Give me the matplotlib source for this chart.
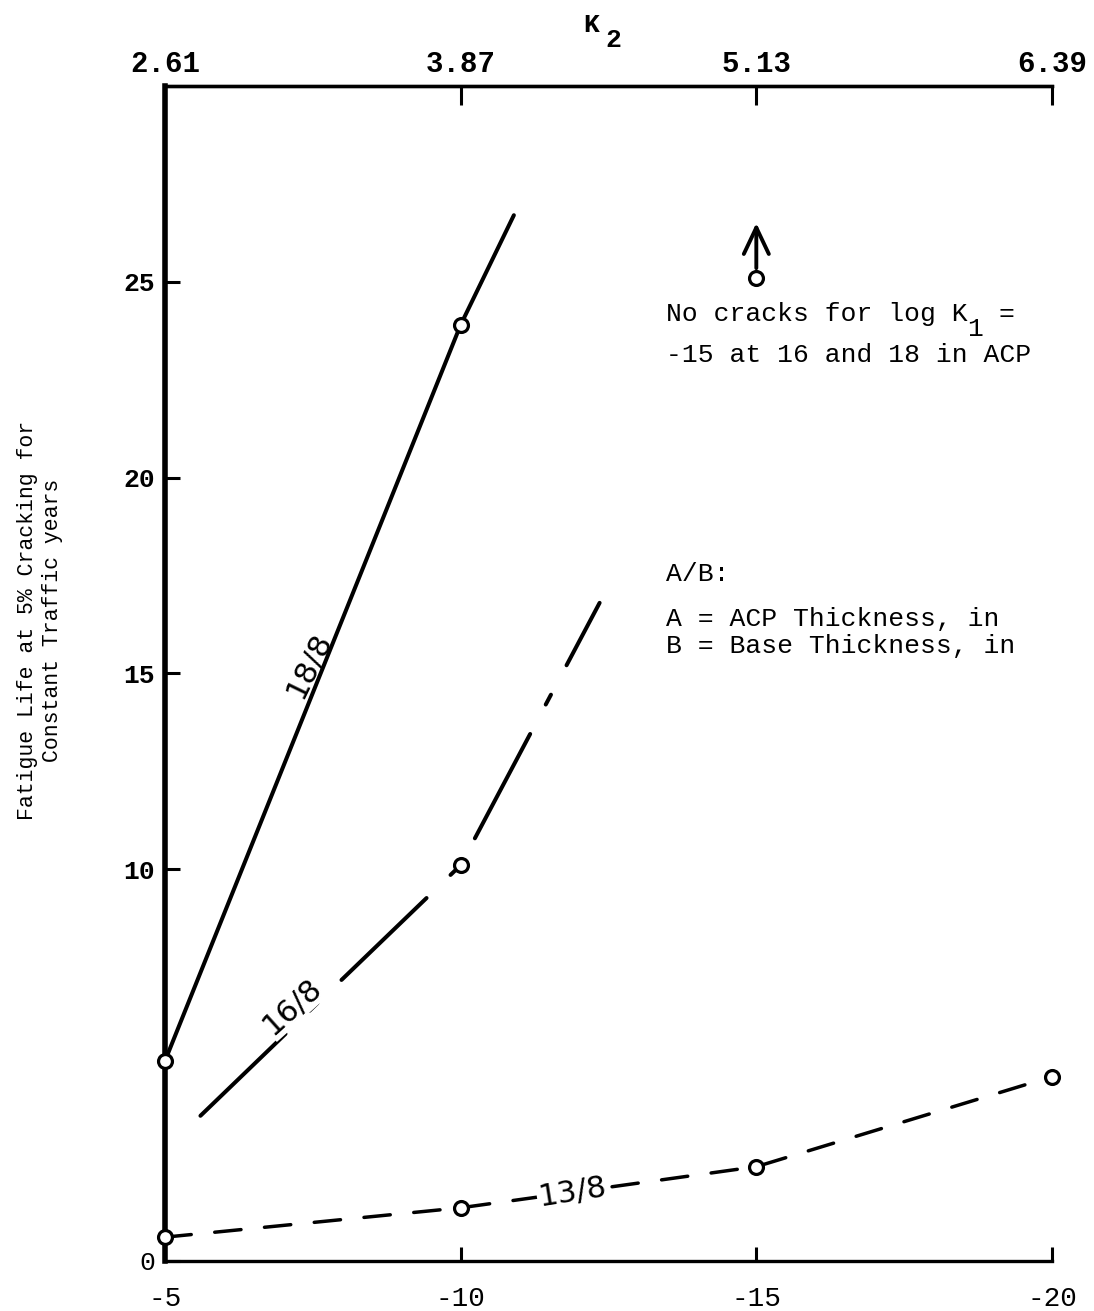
import matplotlib.pyplot as plt
from matplotlib.transforms import offset_copy

plt.rcParams['font.family'] = ['Liberation Mono', 'DejaVu Sans']
plt.rcParams['lines.scale_dashes'] = False

# log K1 along the bottom, K2 along the top
x_ticks = [-5, -10, -15, -20]
x_labels = ['-5', '-10', '-15', '-20']
k2_labels = ['2.61', '3.87', '5.13', '6.39']
y_ticks = [0, 10, 15, 20, 25]
y_labels = ['0', '10', '15', '20', '25']

# fatigue life (years)
x_18_8 = [-5, -10, -10.9]
y_18_8 = [5.1, 23.9, 26.7]
x_16_8 = [-5.6, -10, -12.35]
y_16_8 = [3.7, 10.1, 16.8]
x_13_8 = [-5, -10, -15, -20]
y_13_8 = [0.6, 1.35, 2.4, 4.7]

# computed points (open circles)
pts_18_8_x = [-5, -10]
pts_18_8_y = [5.1, 23.9]
pts_16_8_x = [-10]
pts_16_8_y = [10.1]
no_crack_x = -15
no_crack_y = 25.1
no_crack_top = 26.5

fig = plt.figure(figsize=(10.94, 13.11), dpi=100)
ax = fig.add_axes([0.1508, 0.0384, 0.8108, 0.896])
ax.set_xlim(-5, -20)
ax.set_ylim(0, 30)

# curves
ax.plot(x_18_8, y_18_8, color='black', lw=2.9, solid_capstyle='round', zorder=3)
ax.plot(x_16_8, y_16_8, color='black', lw=2.9, dashes=(85, 24, 8, 24),
        dash_capstyle='round', zorder=3)
ax.plot(x_13_8, y_13_8, color='black', lw=2.5, dashes=(19, 17),
        dash_capstyle='round', zorder=3)

mk = dict(ls='none', marker='o', ms=10, mfc='white', mec='black', mew=2.3,
          zorder=5, clip_on=False)
ax.plot(pts_18_8_x, pts_18_8_y, **mk)
ax.plot(pts_16_8_x, pts_16_8_y, **mk)
ax.plot(x_13_8, y_13_8, **mk)
ax.plot([no_crack_x], [no_crack_y], **mk)

ax.annotate('', xy=(no_crack_x, no_crack_top), xytext=(no_crack_x, no_crack_y),
            arrowprops=dict(arrowstyle='->,head_length=1.9,head_width=0.9',
                            lw=2.8, color='black', shrinkA=7, shrinkB=0,
                            mutation_scale=10))

# curve labels
lab = dict(family='DejaVu Sans', fontsize=22, ha='center', va='center',
           rotation_mode='anchor', zorder=6)
ax.text(-7.45, 15.2, '18/8', rotation=64, **lab)
ax.text(-7.16, 6.5, '16/8', rotation=42,
        bbox=dict(fc='white', ec='none', pad=1), **lab)
ax.text(-11.89, 1.75, '13/8', rotation=9,
        bbox=dict(fc='white', ec='none', pad=1), **lab)

# notes
fs = 19
cw = 0.6 * fs  # monospace advance, points
ax.text(-13.48, 24.0, 'No cracks for log K', fontsize=fs, va='baseline')
sub = offset_copy(ax.transData, fig=fig, x=19 * cw, y=-11, units='points')
ax.text(-13.48, 24.0, '1', fontsize=fs, va='baseline', transform=sub)
eq = offset_copy(ax.transData, fig=fig, x=21 * cw, y=0, units='points')
ax.text(-13.48, 24.0, '=', fontsize=fs, va='baseline', transform=eq)
ax.text(-13.48, 22.95, '-15 at 16 and 18 in ACP', fontsize=fs, va='baseline')
ax.text(-13.48, 17.37, 'A/B:', fontsize=fs, va='baseline')
ax.text(-13.48, 16.22, 'A = ACP Thickness, in', fontsize=fs, va='baseline')
ax.text(-13.48, 15.53, 'B = Base Thickness, in', fontsize=fs, va='baseline')

# axes styling
ax.set_xticks(x_ticks, labels=x_labels)
ax.set_yticks(y_ticks, labels=y_labels, fontweight='bold')
ax.get_yticklabels()[0].set_fontsize(15)
ax.get_yticklabels()[0].set_fontweight('normal')
ax.tick_params(axis='y', direction='in', length=11, width=2.2, pad=7, labelsize=19)
ax.tick_params(axis='x', direction='in', length=10, width=2.2, pad=18, labelsize=20)
ax.spines['right'].set_visible(False)
ax.spines['left'].set_linewidth(4)
ax.spines['bottom'].set_linewidth(2.4)
ax.spines['top'].set_linewidth(2.4)

sec = ax.secondary_xaxis('top')
sec.set_xticks(x_ticks, labels=k2_labels, fontweight='bold', fontsize=21)
sec.tick_params(direction='in', length=14, width=2.2, pad=6)
sec.spines['top'].set_linewidth(2.4)

fig.text(591 / 1094, 1 - 25 / 1311, 'K', fontsize=19, fontweight='bold',
         ha='center', va='center')
fig.text(613 / 1094, 1 - 40 / 1311, '2', fontsize=19, fontweight='bold',
         ha='center', va='center')
fig.text(40 / 1094, 1 - 620 / 1311,
         'Fatigue Life at 5% Cracking for\nConstant Traffic years',
         rotation=90, ha='center', va='center', fontsize=15.5, linespacing=1.3)

fig.savefig('out.png', dpi=100)
